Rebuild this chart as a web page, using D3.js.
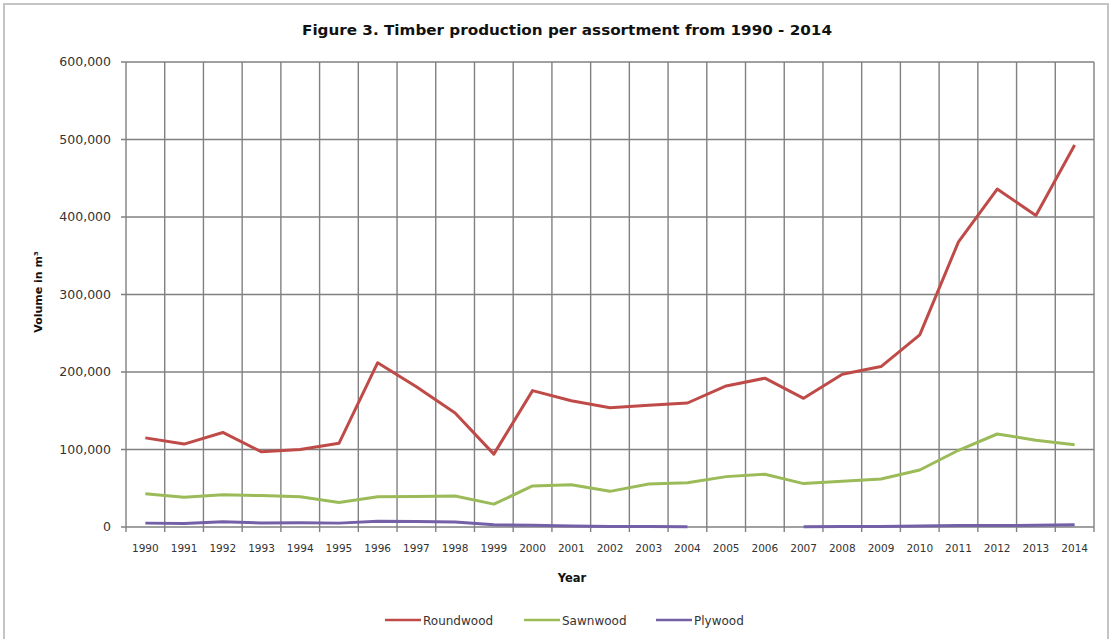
<!DOCTYPE html>
<html>
  <head>
    <meta charset="UTF-8">
    <title>Timber production</title>
    <script src="https://cdn.jsdelivr.net/npm/d3@7"></script>
    <style>
      body { margin: 0; background: #fff; }
      text { font-family: "DejaVu Sans", Arial, sans-serif; fill: #333; }
    </style>
  </head>
  <body>
    <svg id="chart" width="1113" height="639"></svg>
    <script>
      // Data
      const years = d3.range(1990, 2015).map(String);
      const roundwood = [115000, 107000, 122000, 97000, 100000, 108000, 212000, 181000, 147000, 94000,
                         176000, 163000, 154000, 157000, 160000, 182000, 192000, 166000, 197000, 207000,
                         248000, 368000, 436000, 402000, 493000];
      const sawnwood = [43000, 38500, 41500, 40500, 39000, 31500, 39000, 39500, 40000, 29500,
                        53000, 54500, 46000, 55500, 57000, 65000, 68000, 56000, 59000, 62000,
                        73500, 99000, 120000, 112000, 106000];
      const plywood = [5000, 4500, 6800, 5200, 5500, 5000, 7500, 7000, 6500, 2800,
                       2200, 1200, 600, 500, 300, null, null, 300, 600, 800,
                       1300, 1800, 1800, 2300, 3000];
      const yTicks = [0, 100000, 200000, 300000, 400000, 500000, 600000];

      const series = [
        {name: "Roundwood", values: roundwood, color: "#bf4b48"},
        {name: "Sawnwood", values: sawnwood, color: "#9bbb59"},
        {name: "Plywood", values: plywood, color: "#7460a6"}
      ];

      const svg = d3.select("#chart");
      const plotL = 126, plotR = 1094, plotT = 62, plotB = 527;

      // frame
      svg.append("rect")
        .attr("x", 4).attr("y", 4).attr("width", 1104).attr("height", 650)
        .attr("fill", "none").attr("stroke", "#c4c4c4").attr("stroke-width", 2);

      const x = d3.scaleBand().domain(years).range([plotL, plotR]).padding(0);
      const y = d3.scaleLinear().domain([0, 600000]).range([plotB, plotT]);

      // horizontal grid
      svg.append("g")
        .selectAll("line")
        .data(yTicks)
        .join("line")
        .attr("x1", plotL - 5).attr("x2", plotR)
        .attr("y1", d => y(d)).attr("y2", d => y(d))
        .attr("stroke", "#808080").attr("stroke-width", 1.4);

      // vertical grid at category boundaries
      const bounds = years.map(d => x(d)).concat([plotR]);
      svg.append("g")
        .selectAll("line")
        .data(bounds)
        .join("line")
        .attr("x1", d => d).attr("x2", d => d)
        .attr("y1", plotT).attr("y2", plotB + 5)
        .attr("stroke", "#808080").attr("stroke-width", 1.4);

      // y labels
      svg.append("g")
        .selectAll("text")
        .data(yTicks)
        .join("text")
        .attr("x", 111).attr("y", d => y(d) + 4)
        .attr("text-anchor", "end")
        .attr("font-size", 12.5)
        .text(d3.format(","));

      // x labels
      svg.append("g")
        .selectAll("text")
        .data(years)
        .join("text")
        .attr("x", d => x(d) + x.bandwidth() / 2)
        .attr("y", 552)
        .attr("text-anchor", "middle")
        .attr("font-size", 10.5)
        .text(d => d);

      // lines
      const line = d3.line()
        .defined(d => d[1] != null)
        .x(d => x(d[0]) + x.bandwidth() / 2)
        .y(d => y(d[1]));

      svg.append("g")
        .selectAll("path")
        .data(series)
        .join("path")
        .attr("fill", "none")
        .attr("stroke", d => d.color)
        .attr("stroke-width", 3)
        .attr("stroke-linejoin", "round")
        .attr("d", d => line(years.map((yr, i) => [yr, d.values[i]])));

      // titles
      svg.append("text")
        .attr("x", 567).attr("y", 35)
        .attr("text-anchor", "middle")
        .attr("font-size", 14).attr("font-weight", "bold")
        .attr("textLength", 530).attr("lengthAdjust", "spacingAndGlyphs")
        .style("fill", "#111")
        .text("Figure 3. Timber production per assortment from 1990 - 2014");

      svg.append("text")
        .attr("transform", "translate(42,292) rotate(-90)")
        .attr("text-anchor", "middle")
        .attr("font-size", 11).attr("font-weight", "bold")
        .style("fill", "#111")
        .text("Volume in m³");

      svg.append("text")
        .attr("x", 572).attr("y", 582)
        .attr("text-anchor", "middle")
        .attr("font-size", 11.5).attr("font-weight", "bold")
        .style("fill", "#111")
        .text("Year");

      // legend
      const legendX = [385, 524, 656];
      const lg = svg.append("g")
        .selectAll("g")
        .data(series)
        .join("g")
        .attr("transform", (d, i) => `translate(${legendX[i]},620)`);
      lg.append("line")
        .attr("x1", 0).attr("x2", 36)
        .attr("stroke", d => d.color).attr("stroke-width", 2.5);
      lg.append("text")
        .attr("x", 38).attr("y", 4.5)
        .attr("font-size", 12)
        .text(d => d.name);
    </script>
  </body>
</html>
